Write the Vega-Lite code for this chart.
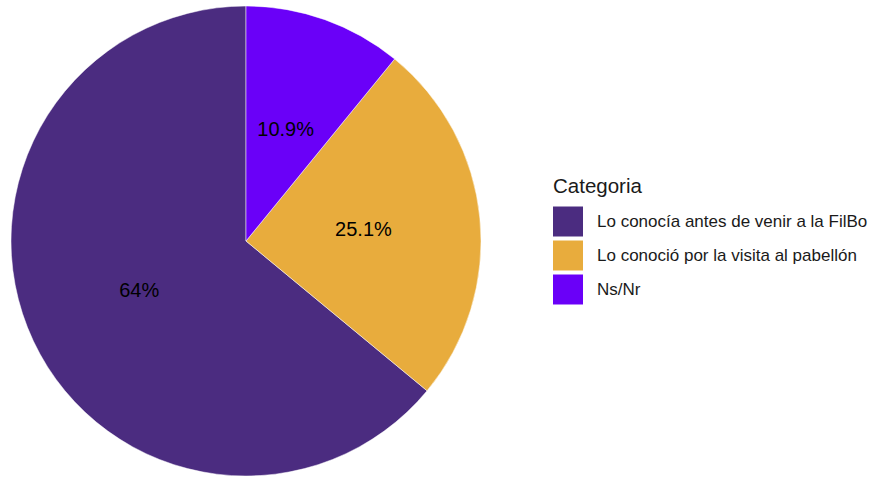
{
  "$schema": "https://vega.github.io/schema/vega-lite/v6.json",
  "width": 492,
  "height": 476,
  "autosize": {"type": "none"},
  "padding": {"left": 0, "top": 3, "right": 379, "bottom": 0},
  "background": "white",
  "config": {"view": {"stroke": null}, "font": "Liberation Sans"},
  "data": {
    "values": [
      {"Categoria": "Lo conocía antes de venir a la FilBo", "pct": 64.0, "label": "64%", "orden": 3},
      {"Categoria": "Lo conoció por la visita al pabellón", "pct": 25.1, "label": "25.1%", "orden": 2},
      {"Categoria": "Ns/Nr", "pct": 10.9, "label": "10.9%", "orden": 1}
    ]
  },
  "encoding": {
    "theta": {"field": "pct", "type": "quantitative", "stack": true},
    "order": {"field": "orden", "type": "quantitative"}
  },
  "layer": [
    {
      "mark": {"type": "arc", "outerRadius": 235, "stroke": "#ffffff", "strokeWidth": 0.5},
      "encoding": {
        "color": {
          "field": "Categoria",
          "type": "nominal",
          "scale": {
            "domain": ["Lo conocía antes de venir a la FilBo", "Lo conoció por la visita al pabellón", "Ns/Nr"],
            "range": ["#4B2C80", "#E8AC3D", "#6A00F8"]
          },
          "legend": {
            "title": "Categoria",
            "orient": "none",
            "legendX": 553,
            "legendY": 174,
            "titleFontSize": 20.5,
            "titleFontWeight": "normal",
            "titleColor": "#1a1a1a",
            "titlePadding": 9,
            "symbolType": "square",
            "symbolSize": 900,
            "symbolStrokeWidth": 0,
            "symbolOpacity": 1,
            "labelFontSize": 17,
            "labelColor": "#1a1a1a",
            "labelOffset": 14,
            "rowPadding": 4,
            "labelLimit": 400
          }
        }
      }
    },
    {
      "mark": {"type": "text", "radius": 118, "fontSize": 20, "color": "#000000"},
      "encoding": {
        "text": {"field": "label", "type": "nominal"}
      }
    }
  ]
}
